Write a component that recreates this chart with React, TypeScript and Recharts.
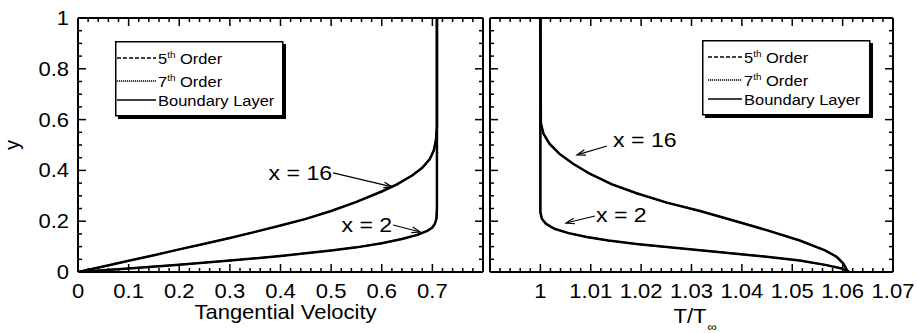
import { LineChart, Line, XAxis, YAxis, ReferenceLine, Legend } from 'recharts';

const FONT = '"Liberation Sans", Arial, Helvetica, sans-serif';
const SX = 1.1; // labels are set slightly wide

// tangential velocity profiles (u, y)
const velocityX16 = [
  { x: 0, y: 0 }, { x: 0.05, y: 0.022 }, { x: 0.1, y: 0.044 }, { x: 0.15, y: 0.066 },
  { x: 0.2, y: 0.089 }, { x: 0.25, y: 0.111 }, { x: 0.3, y: 0.134 }, { x: 0.35, y: 0.158 },
  { x: 0.4, y: 0.183 }, { x: 0.45, y: 0.209 }, { x: 0.5, y: 0.24 }, { x: 0.55, y: 0.276 },
  { x: 0.6, y: 0.317 }, { x: 0.63, y: 0.345 }, { x: 0.66, y: 0.38 }, { x: 0.68, y: 0.41 },
  { x: 0.695, y: 0.445 }, { x: 0.703, y: 0.48 }, { x: 0.707, y: 0.52 }, { x: 0.709, y: 0.57 },
  { x: 0.709, y: 1 },
];
const velocityX2 = [
  { x: 0, y: 0 }, { x: 0.1, y: 0.014 }, { x: 0.2, y: 0.029 }, { x: 0.3, y: 0.045 },
  { x: 0.4, y: 0.063 }, { x: 0.5, y: 0.085 }, { x: 0.55, y: 0.097 }, { x: 0.6, y: 0.113 },
  { x: 0.64, y: 0.13 }, { x: 0.67, y: 0.146 }, { x: 0.69, y: 0.162 }, { x: 0.7, y: 0.175 },
  { x: 0.705, y: 0.19 }, { x: 0.708, y: 0.21 }, { x: 0.709, y: 0.25 }, { x: 0.709, y: 1 },
];

// temperature profiles (T/Tinf, y)
const tempX16 = [
  { x: 1.0612, y: 0 }, { x: 1.0608, y: 0.01 }, { x: 1.0601, y: 0.034 }, { x: 1.0588, y: 0.06 },
  { x: 1.0565, y: 0.085 }, { x: 1.0515, y: 0.124 }, { x: 1.0449, y: 0.165 }, { x: 1.0383, y: 0.203 },
  { x: 1.0317, y: 0.24 }, { x: 1.0251, y: 0.273 }, { x: 1.0191, y: 0.31 }, { x: 1.0141, y: 0.346 },
  { x: 1.0098, y: 0.387 }, { x: 1.0065, y: 0.426 }, { x: 1.0038, y: 0.465 }, { x: 1.0018, y: 0.505 },
  { x: 1.0006, y: 0.545 }, { x: 1.0001, y: 0.585 }, { x: 1.0, y: 1 },
];
const tempX2 = [
  { x: 1.0612, y: 0 }, { x: 1.0608, y: 0.005 }, { x: 1.0598, y: 0.014 }, { x: 1.0568, y: 0.027 },
  { x: 1.0515, y: 0.045 }, { x: 1.0449, y: 0.06 }, { x: 1.0383, y: 0.073 }, { x: 1.0317, y: 0.086 },
  { x: 1.0251, y: 0.098 }, { x: 1.0191, y: 0.11 }, { x: 1.0135, y: 0.124 }, { x: 1.0092, y: 0.138 },
  { x: 1.0056, y: 0.153 }, { x: 1.0028, y: 0.17 }, { x: 1.0011, y: 0.19 }, { x: 1.0003, y: 0.21 },
  { x: 1.0, y: 0.235 }, { x: 1.0, y: 1 },
];

const velocityLabels = ['0', '0.1', '0.2', '0.3', '0.4', '0.5', '0.6', '0.7'];
const tempLabels = ['1', '1.01', '1.02', '1.03', '1.04', '1.05', '1.06', '1.07'];
const yLabels = ['0', '0.2', '0.4', '0.6', '0.8', '1'];

const velocityDomain = [0, 0.8];
const tempDomain = [0.99, 1.07];

const legendItems = [
  { lead: '5', sup: 'th', rest: ' Order', dash: '4 2', width: 1.3 },
  { lead: '7', sup: 'th', rest: ' Order', dash: '1.2 0.8', width: 1.3 },
  { lead: 'Boundary Layer', sup: '', rest: '', dash: undefined, width: 1.5 },
];

// annotation arrows, tail -> head in data units
const velocityNotes = [
  { label: 'x = 16', from: { x: 0.504, y: 0.39 }, to: { x: 0.6206, y: 0.335 }, anchor: 'end', dx: -1, dy: 7 },
  { label: 'x = 2', from: { x: 0.6225, y: 0.185 }, to: { x: 0.676, y: 0.1575 }, anchor: 'end', dx: -1, dy: 7 },
];
const tempNotes = [
  { label: 'x = 16', from: { x: 1.01323, y: 0.496 }, to: { x: 1.00727, y: 0.461 }, anchor: 'start', dx: 6, dy: 1 },
  { label: 'x = 2', from: { x: 1.01084, y: 0.2205 }, to: { x: 1.00509, y: 0.193 }, anchor: 'start', dx: 1, dy: 6 },
];

// minor tick positions
const velocityTicks = Array.from({ length: 41 }, (_, i) => +(i * 0.02).toFixed(2));
const tempTicks = Array.from({ length: 41 }, (_, i) => +(0.99 + i * 0.002).toFixed(3));
const yTicks = Array.from({ length: 21 }, (_, i) => +(i * 0.05).toFixed(2));

const toMap = (labels: string[]) => new Map(labels.map((l) => [Number(l), l]));

// one point per tick mark and frame side; drawn as dots of an unstroked line
const tickPoints = (domain: number[], xTicks: number[], xLabels: Map<number, string>) => {
  const pts: any[] = [];
  xTicks.forEach((v) => {
    const major = xLabels.has(v);
    pts.push({ x: v, y: 0, side: 'b', major }, { x: v, y: 1, side: 't', major });
  });
  yTicks.forEach((v) => {
    const major = Math.round(v * 100) % 20 === 0;
    pts.push({ x: domain[0], y: v, side: 'l', major }, { x: domain[1], y: v, side: 'r', major });
  });
  return pts;
};

function TickDot({ cx, cy, payload }: any) {
  const len = payload.major ? 8 : 4;
  const t = 1.5;
  if (payload.side === 'b') return <rect x={cx - t / 2} y={cy - len} width={t} height={len} fill="#000" />;
  if (payload.side === 't') return <rect x={cx - t / 2} y={cy} width={t} height={len} fill="#000" />;
  if (payload.side === 'l') return <rect x={cx} y={cy - t / 2} width={len} height={t} fill="#000" />;
  return <rect x={cx - len} y={cy - t / 2} width={len} height={t} fill="#000" />;
}

const renderTickDot = (p: any) => {
  const { key, ...rest } = p;
  return <TickDot key={key ?? `${rest.index}`} {...rest} />;
};

function SText({ x, y, anchor = 'start', size, children }: any) {
  return (
    <text transform={`translate(${x},${y}) scale(${SX},1)`} textAnchor={anchor} fontSize={size} fontFamily={FONT} fill="#000">
      {children}
    </text>
  );
}

function BottomLabel(props: any) {
  const { x, y, payload, labels } = props;
  const label = labels.get(payload.value);
  if (label === undefined) return <g />;
  return <SText x={x} y={y + 26} anchor="middle" size={20}>{label}</SText>;
}

function LeftLabel(props: any) {
  const { x, y, payload, labels } = props;
  const label = labels.get(payload.value);
  if (label === undefined) return <g />;
  return <SText x={x - 9} y={y + 7} anchor="end" size={20}>{label}</SText>;
}

function arrowShape(note: any) {
  return (p: any) => {
    const { x1, y1, x2, y2 } = p;
    const a = Math.atan2(y2 - y1, x2 - x1);
    const h = 9;
    const w = 0.32;
    const d = `M${x2 - h * Math.cos(a - w)},${y2 - h * Math.sin(a - w)} L${x2},${y2} L${x2 - h * Math.cos(a + w)},${y2 - h * Math.sin(a + w)}`;
    return (
      <g>
        <line x1={x1} y1={y1} x2={x2} y2={y2} stroke="#000" strokeWidth={1.2} />
        <path d={d} fill="none" stroke="#000" strokeWidth={1.2} />
        <SText x={x1 + note.dx} y={y1 + note.dy} anchor={note.anchor} size={21}>{note.label}</SText>
      </g>
    );
  };
}

function LegendBox({ lineX, textX }: { lineX: number; textX: number }) {
  const rows = [17, 40, 59];
  return (
    <svg width={175} height={80} style={{ display: 'block', overflow: 'visible' }}>
      <rect x={3} y={3} width={168} height={75} fill="#000" />
      <rect x={0.75} y={0.75} width={167} height={74} fill="#fff" stroke="#000" strokeWidth={1.5} />
      {legendItems.map((it, i) => (
        <g key={i}>
          <line x1={lineX} y1={rows[i]} x2={textX - 2} y2={rows[i]} stroke="#000" strokeWidth={it.width} strokeDasharray={it.dash} />
          <SText x={textX} y={rows[i] + 6} size={15}>
            {it.lead}
            {it.sup && (
              <tspan dy={-6} fontSize={9}>
                {it.sup}
              </tspan>
            )}
            {it.rest && (
              <tspan dy={6} fontSize={15}>
                {it.rest}
              </tspan>
            )}
          </SText>
        </g>
      ))}
    </svg>
  );
}

const curveLines = (data: any[], key: string) => [
  <Line key={key + 'bl'} data={data} dataKey="y" type="linear" stroke="#000" strokeWidth={2.5} dot={false} isAnimationActive={false} />,
  <Line key={key + '5'} data={data} dataKey="y" type="linear" stroke="#000" strokeWidth={1.5} strokeDasharray="4 2" dot={false} isAnimationActive={false} />,
  <Line key={key + '7'} data={data} dataKey="y" type="linear" stroke="#000" strokeWidth={1.5} strokeDasharray="1.2 0.8" dot={false} isAnimationActive={false} />,
];

// plot frame
const frameLines = (domain: number[]) => [
  <ReferenceLine key="fl" x={domain[0]} stroke="#000" strokeWidth={2} />,
  <ReferenceLine key="fr" x={domain[1]} stroke="#000" strokeWidth={2} />,
  <ReferenceLine key="fb" y={0} stroke="#000" strokeWidth={2} />,
  <ReferenceLine key="ft" y={1} stroke="#000" strokeWidth={2} />,
];

export default function App() {
  const velMap = toMap(velocityLabels);
  const tempMap = toMap(tempLabels);
  const yMap = toMap(yLabels);

  return (
    <div style={{ position: 'absolute', left: 0, top: 0, width: 917, height: 333, background: '#fff', fontFamily: FONT }}>
      <div style={{ position: 'absolute', left: 0, top: 0 }}>
        <LineChart width={487} height={333} margin={{ top: 18, right: 4, bottom: 0, left: 0 }}>
          <XAxis
            dataKey="x"
            type="number"
            domain={velocityDomain}
            ticks={velocityLabels.map(Number)}
            interval={0}
            allowDataOverflow
            height={61}
            tickSize={0}
            tickMargin={0}
            tickLine={false}
            axisLine={false}
            tick={<BottomLabel labels={velMap} />}
            label={{
              content: (p: any) => (
                <SText x={p.viewBox.x + p.viewBox.width / 2 + 5} y={p.viewBox.y + 47} anchor="middle" size={20}>
                  Tangential Velocity
                </SText>
              ),
            }}
          />
          <YAxis
            type="number"
            domain={[0, 1]}
            ticks={yLabels.map(Number)}
            interval={0}
            allowDataOverflow
            width={78}
            tickSize={0}
            tickMargin={0}
            tickLine={false}
            axisLine={false}
            tick={<LeftLabel labels={yMap} />}
            label={{
              content: (p: any) => {
                const cy = p.viewBox.y + p.viewBox.height / 2;
                return (
                  <text x={19} y={cy} transform={`rotate(-90 19 ${cy})`} textAnchor="middle" fontSize={20} fontFamily={FONT} fill="#000">
                    y
                  </text>
                );
              },
            }}
          />
          {frameLines(velocityDomain)}
          <Line
            data={tickPoints(velocityDomain, velocityTicks, velMap)}
            dataKey="y"
            stroke="none"
            dot={renderTickDot}
            activeDot={false}
            isAnimationActive={false}
          />
          {curveLines(velocityX16, 'v16')}
          {curveLines(velocityX2, 'v2')}
          {velocityNotes.map((n) => (
            <ReferenceLine key={n.label} segment={[n.from, n.to]} shape={arrowShape(n)} />
          ))}
          <Legend
            layout="vertical"
            align="center"
            verticalAlign="middle"
            wrapperStyle={{ left: 115, top: 41, width: 175, height: 80 }}
            content={() => <LegendBox lineX={2} textX={43} />}
          />
        </LineChart>
      </div>

      <div style={{ position: 'absolute', left: 486, top: 0 }}>
        <LineChart width={431} height={333} margin={{ top: 18, right: 24, bottom: 0, left: 0 }}>
          <XAxis
            dataKey="x"
            type="number"
            domain={tempDomain}
            ticks={tempLabels.map(Number)}
            interval={0}
            allowDataOverflow
            height={61}
            tickSize={0}
            tickMargin={0}
            tickLine={false}
            axisLine={false}
            tick={<BottomLabel labels={tempMap} />}
            label={{
              content: (p: any) => (
                <SText x={p.viewBox.x + p.viewBox.width / 2 - 18} y={p.viewBox.y + 51} size={20}>
                  T/T
                  <tspan dx={1} dy={8} fontSize={12}>
                    ∞
                  </tspan>
                </SText>
              ),
            }}
          />
          <YAxis type="number" domain={[0, 1]} allowDataOverflow width={4} tick={false} tickLine={false} axisLine={false} />
          {frameLines(tempDomain)}
          <Line
            data={tickPoints(tempDomain, tempTicks, tempMap)}
            dataKey="y"
            stroke="none"
            dot={renderTickDot}
            activeDot={false}
            isAnimationActive={false}
          />
          {curveLines(tempX16, 't16')}
          {curveLines(tempX2, 't2')}
          {tempNotes.map((n) => (
            <ReferenceLine key={n.label} segment={[n.from, n.to]} shape={arrowShape(n)} />
          ))}
          <Legend
            layout="vertical"
            align="center"
            verticalAlign="middle"
            wrapperStyle={{ left: 216, top: 40, width: 175, height: 80 }}
            content={() => <LegendBox lineX={6} textX={42} />}
          />
        </LineChart>
      </div>
    </div>
  );
}
